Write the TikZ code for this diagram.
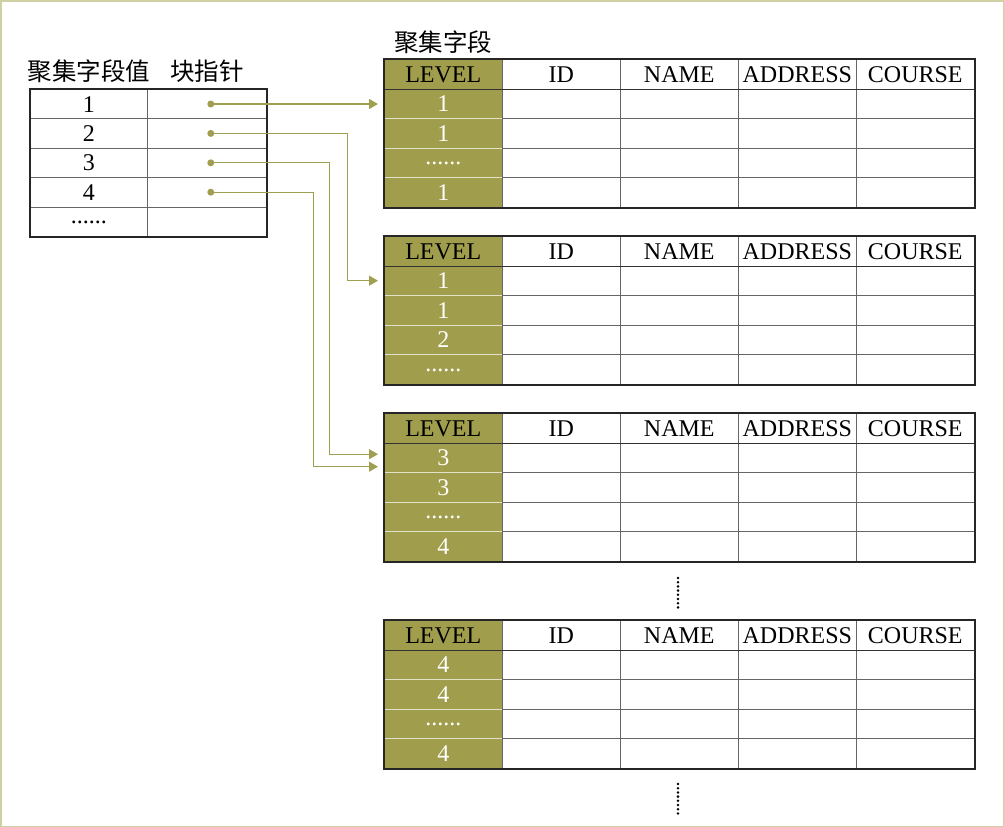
\documentclass[tikz,border=0pt]{standalone}
\usepackage{fontspec}
\setmainfont{Liberation Serif}
\newfontfamily\cjk{Noto Sans CJK SC}
\usepackage{tikz}
\usetikzlibrary{positioning,arrows.meta}
\definecolor{olivefill}{RGB}{160,158,76}
\definecolor{linkcol}{RGB}{160,158,80}
\definecolor{framecol}{RGB}{208,208,165}
\newcommand{\moredots}{\raisebox{6pt}{......}}

\begin{document}
\begin{tikzpicture}[
x=1pt, y=-1pt,
every node/.style={font=\fontsize{24}{28}\selectfont},
cell/.style={draw=black!60, line width=0.6pt, minimum width=118pt, minimum height=29.6pt, inner sep=0pt, text height=16pt, text depth=0pt, anchor=north west},
lvcell/.style={cell, fill=olivefill, draw=white!70!olivefill, text=white},
title/.style={font=\cjk\fontsize{24.5}{28}\selectfont, inner sep=1pt},
link/.style={draw=linkcol, line width=1.1pt, shorten >=6pt, -{Triangle[length=9pt,width=10pt]}}
]
\useasboundingbox (0,0) rectangle (1004,827);
\draw[framecol, line width=1.5pt] (0.75,0.75) rectangle (1003.25,826.25);

% index table
\foreach \r/\v in {1/1,2/2,3/3,4/4,5/\moredots} {
  \node[cell, minimum width=117pt, minimum height=29.4pt] (key\r) at (30,89+29.4*\r-29.4) {\v};
  \node[cell, minimum width=119pt, minimum height=29.4pt] (ptr\r) at (147,89+29.4*\r-29.4) {};
}
\draw[line width=2pt, black!85] (key1.north west) rectangle (ptr5.south east);
\node[title, above=5pt of key1] (keytitle) {聚集字段值};
\node[title, above=5pt of ptr1] (ptrtitle) {块指针};

% data blocks
\foreach \t/\top/\va/\vb/\vc/\vd in {1/59/1/1/\moredots/1, 2/236/1/1/2/\moredots, 3/413/3/3/\moredots/4, 4/620/4/4/\moredots/4} {
  \node[lvcell, text=black] (t\t-h0) at (384,\top) {LEVEL};
  \foreach \c/\colname in {1/ID,2/NAME,3/ADDRESS,4/COURSE}
    \node[cell] (t\t-h\c) at (384+118*\c,\top) {\colname};
  \foreach \r/\v in {1/\va,2/\vb,3/\vc,4/\vd} {
    \node[lvcell] (t\t-\r) at (384,\top+29.6*\r) {\v};
    \foreach \c in {1,2,3,4}
      \node[cell] (t\t-\r-\c) at (384+118*\c,\top+29.6*\r) {};
  }
  \draw[line width=1.2pt, black!80] (t\t-h0.south west) -- (t\t-h4.south east);
  \draw[line width=2pt, black!85] (t\t-h0.north west) rectangle (t\t-4-4.south east);
}
\node[title, above=4pt of t1-h0] (blocktitle) {聚集字段};

% pointers
\foreach \r in {1,2,3,4} {
  \coordinate (dot\r) at ([xshift=4pt]ptr\r.center);
  \fill[linkcol] (dot\r) circle (3.5pt);
}
\draw[link] (dot1) -- (dot1 -| t1-1.west);
\draw[link] (dot2) -- ++(137,0) |- (t2-1.west);
\draw[link] (dot3) -- ++(119,0) |- ([yshift=3.5pt]t3-1.west);
\draw[link] (dot4) -- ++(103,0) |- ([yshift=-9pt]t3-1.west);

% more blocks
\foreach \k in {0,1,2,3,4,5,6,7} {
  \fill (678,578+4.2*\k) circle (1.4pt);
  \fill (678,784+4.2*\k) circle (1.4pt);
}
\end{tikzpicture}
\end{document}
